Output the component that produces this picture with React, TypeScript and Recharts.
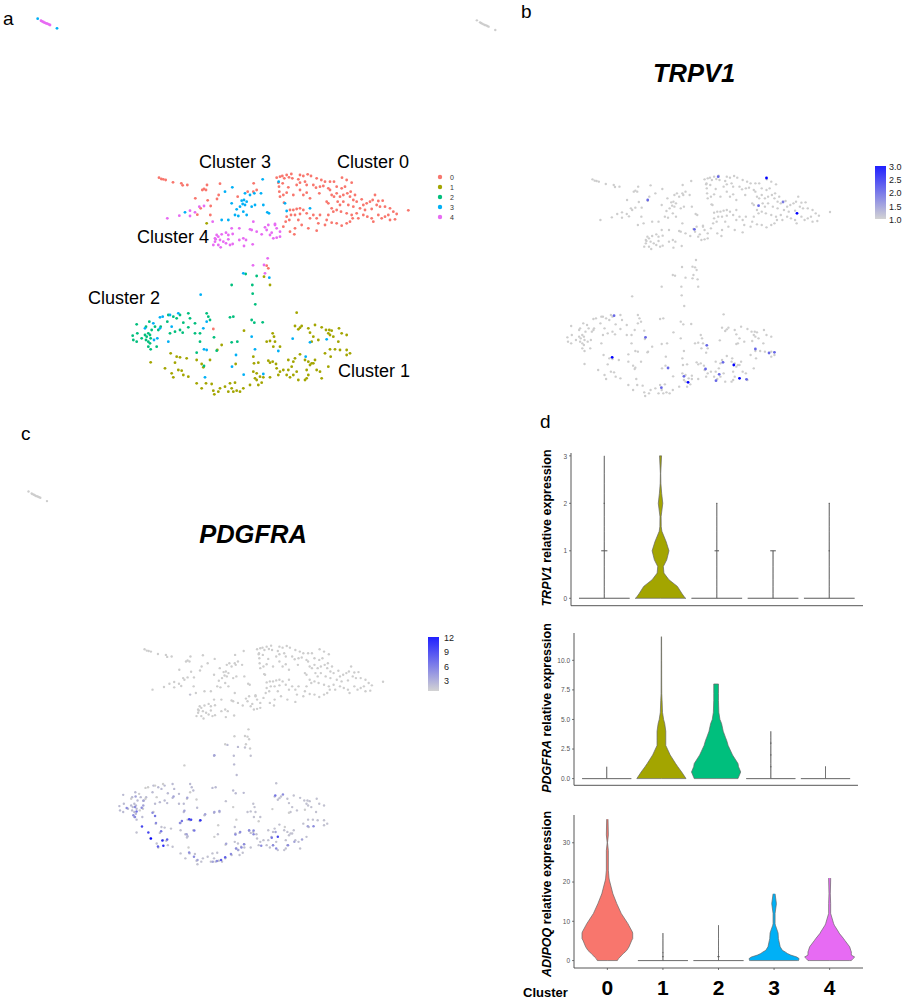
import React from "react";
import { ComposedChart, ScatterChart, Scatter, Area, XAxis, YAxis } from "recharts";

type P = number[];
const FONT = "'Liberation Sans', Arial, sans-serif";

const clusterNames = ["0", "1", "2", "3", "4"];
const clusterColors = ["#F8766D", "#A3A500", "#00BF7D", "#00B0F6", "#E76BF3"];

const cluster0: P[] = [[237,113],[244,117],[250,118],[257,120],[279,127],[304,130],[308,136],[322,135],[381,135],[372,147],[367,150],[378,150],[420,131],[346,175],[383,181],[411,177],[416,165],[392,198],[391,225],[362,205],[352,224],[521,130],[503,155],[520,155],[530,150],[473,170],
[590,113],[600,110],[607,108],[613,115],[620,105],[627,112],[634,102],[637,115],[660,105],[670,108],[683,103],[693,108],[710,115],[724,120],[735,125],[750,125],[762,125],[786,113],[815,128],[800,120],
[595,128],[597,140],[608,130],[625,142],[655,118],[660,128],[675,125],[650,135],[680,135],[700,135],[708,143],[720,140],[730,138],[745,145],[750,150],[770,140],[785,145],[795,140],[812,155],
[598,155],[610,165],[620,158],[600,170],[612,188],[640,165],[660,150],[670,165],[680,158],[690,175],[718,160],[740,185],[745,190],[755,165],[762,170],[770,160],[780,170],[790,165],[802,160],[810,170],[825,165],[820,180],[830,185],[845,178],[850,195],[860,190],[870,185],[885,165],[878,180],[895,183],[908,182],[890,195],[900,200],[915,200],[930,205],[940,215],[950,222],[985,211],
[773,185],[780,195],[790,185],[805,195],[820,200],[840,205],[855,210],[875,207],[770,210],[783,215],[800,220],[815,225],[830,220],[850,225],[862,230],[875,235],[880,245],[895,225],[905,235],[915,230],[930,240],[945,238],[925,225],
[770,250],[785,257],[800,250],[810,245],[818,235],[835,235],[740,240],[745,225],[755,205],[760,215],[720,225],[710,235],[700,225],[690,235],[680,220],[670,210],[660,205],[650,207],[640,210],[630,210],[633,225],[645,225],[660,222],[620,230],[617,245],[628,240],[655,240],[665,255],[645,265],[630,275],[643,283],[685,265],[710,272],[715,250],[735,255],[755,248],[610,260],[560,377],[565,385],[400,567]];

const cluster1: P[] = [[380,250],[570,435],[552,410],[650,518],[645,558],[655,568],[660,563],[665,558],[685,565],[705,555],[725,562],[738,570],[748,570],[755,572],[745,580],[750,585],[777,565],[785,580],[800,585],[690,578],[700,590],[715,600],[695,605],[760,590],[775,605],[578,580],[582,590],[570,603],[560,605],[585,605],[600,620],[580,620],
[272,640],[290,650],[300,652],[320,655],[212,667],[285,668],[255,685],[275,700],[280,712],[295,690],[305,692],[310,705],[325,710],[350,660],[365,672],[390,660],[370,682],[425,615],[412,630],[492,572],[467,672],[520,650],[522,670],[535,668],[565,662],[570,668],[578,665],[588,672],[625,660],[645,655],[660,643],[675,660],[685,665],[695,670],[705,660],[735,640],[750,628],[765,628],[780,630],[800,630],[810,640],[800,645],[752,650],[745,680],[720,695],[725,715],[700,670],[710,690],[690,675],[680,690],[685,705],[680,715],[675,720],[640,665],[635,680],[625,690],[620,705],[630,712],[640,705],[650,695],[655,720],[610,690],[600,695],[595,705],[590,685],
[520,695],[530,700],[525,715],[540,710],[550,712],[535,735],[530,720],[545,728],[570,712],[350,730],[365,745],[378,730],[395,732],[400,752],[403,763],[420,745],[415,755],[435,740],[450,730],[455,745],[460,755],[470,752],[480,755],[490,745],[510,735],[445,755],[465,728]];

const cluster2: P[] = [[170,553],[158,587],[172,580],[160,600],[170,605],[185,595],[195,585],[200,590],[198,600],[205,605],[210,610],[205,620],[212,628],[205,580],[210,585],[212,595],[215,570],[208,545],[198,560],[225,560],[235,570],[242,560],[230,620],[265,525],[262,545],[280,530],[290,535],[300,525],[310,548],[325,520],[330,535],[345,550],[345,580],[325,562],[308,578],[300,570],[285,575],[270,580],[380,520],[385,530],[390,540],[450,532],[460,530],[360,605],[402,592],[410,632],[455,607],[472,605],[350,638],[372,678],[515,540],[548,547],[523,548],[526,493],[518,461],[517,435],[455,435],[497,402],[530,408],[360,580]];

const cluster3: P[] = [[-127,-364],[-69,-335],[548,118],[596,125],[457,142],[435,155],[495,160],[510,165],[523,160],[543,160],[485,182],[492,180],[500,185],[488,192],[455,190],[480,200],[495,195],[470,208],[515,200],[525,195],[490,215],[465,225],[475,228],[445,240],[425,240],[500,225],[550,195],[562,217],[567,220],[620,213],[615,190],[690,205],[315,217],
[362,464],[568,413],[490,400],[240,532],[248,530],[270,525],[295,520],[380,545],[370,565],[195,565],[220,550],[240,565],[232,595],[222,600],[275,560],[265,605],[372,628],[380,630],[468,645],[515,590],[525,628],[595,633],[638,596],[690,607],[740,598],[677,650],[456,680],[491,704],[550,702],[375,712]];

const cluster4: P[] = [[-117,-358],[-114,-356],[-110,-354],[-106,-352],[-102,-350],[-98,-349],[-94,-347],[-90,-345],[563,355],[519,376],[552,375],[555,400],[262,235],[298,227],[330,212],[330,228],[358,200],[372,198],[345,217],[398,245],
[410,285],[405,295],[415,290],[425,283],[438,278],[445,285],[458,282],[455,265],[478,265],[510,268],[520,245],[515,270],[530,275],[565,255],[585,252],[590,265],[600,275],[560,270],[545,283],[570,285],[580,295],[590,293],[600,290],[575,278],[585,255],[555,262],
[405,305],[400,315],[415,315],[422,322],[430,305],[438,310],[445,298],[450,315],[458,312],[478,300],[490,295],[498,300],[492,318],[518,313],[407,298],[420,300]];

const clusters = [cluster0, cluster1, cluster2, cluster3, cluster4];

const trpv1Expression: P[] = [[633,105,2],[785,109,3],[411,175,2],[760,192,2],[837,181,1.8],[881,215,3],[558,263,2],[305,522,2],[404,587,2],[299,647,3],[597,611,2],[750,622,2],[793,634,2],[810,632,2],[648,662,2],[682,670,3],[475,679,2],[593,682,2],[636,698,2],[525,704,2],[538,722,3],[626,717,2],[700,710,3],[722,713,2],[454,738,2]];

const pdgfraExpression: P[] = [[209,558,5],[233,571,5],[181,593,6],[212,603,7],[207,620,6],[228,592,6],[262,607,6],[270,617,7],[273,638,6],[229,649,9],[249,667,9],[289,663,7],[257,685,12],[293,691,10],[308,688,8],[279,709,8],[296,707,10],[354,632,7],[377,627,9],[383,628,9],[412,630,10],[393,661,7],[456,605,5],[472,602,5],[427,612,5],[537,665,6],[565,660,6],[579,661,6],[579,672,6],[522,673,6],[647,555,7],[671,552,6],[655,680,9],[636,683,7],[648,665,5],[603,707,6],[640,705,6],[650,715,6],[687,705,6],[707,695,5],[731,688,5],[767,648,6],[749,648,5],[524,715,6],[549,702,6],[541,712,6],[531,720,5],[493,701,5],[508,732,6],[490,742,8],[477,750,8],[464,753,6],[451,755,5],[377,727,6],[392,740,6],[403,750,5],[369,672,5],[207,590,6],[233,585,5],[202,615,6],[328,558,5],[371,562,5],[362,601,5],[348,638,6],[456,433,5]];
const pdgfraClusterBase = [1, 3.7, 4, 1, 1];

const gradientMax = { trpv1: 3, pdgfra: 12 };
const gradientMin = { trpv1: 1, pdgfra: 3.2 };

const trpv1Levels = [0,0,0,0.1,0.25,0.39,0.53,0.67,0.81,1,1.19,1.41,1.51,1.72,2,2.21,2.42,2.63,2.85,3,3];
const trpv1Widths: (number | null)[][] = [
  [0,.45,0,0,0,0,0,0,0,0,0,0,0,0,0,0,0,0,0,0,0],
  [0,.45,.44,.38,.30,.15,.06,.05,.11,.15,.10,.024,.012,.01,.04,.02,.006,.003,.012,.018,0],
  [0,.45,0,0,0,0,0,0,0,0,0,0,0,0,0,null,null,null,null,null,null],
  [0,.45,0,0,0,0,0,0,0,0,null,null,null,null,null,null,null,null,null,null,null],
  [0,.45,0,0,0,0,0,0,0,0,0,0,0,0,0,null,null,null,null,null,null],
];
const trpv1Marks = [[1,1,.055],[1,2,.012],[3,1,.04],[4,1,.05],[5,1,.012],[3,2,.01],[5,2,.01]];

const pdgfraLevels = [0,0,0,.56,1,1.27,2,2.8,3.2,3.5,4,4.65,5,5.6,6.6,7.2,8,8,10,12];
const pdgfraWidths: (number | null)[][] = [
  [0,.45,0,0,0,null,null,null,null,null,null,null,null,null,null,null,null,null,null,null],
  [0,.45,.45,.37,.30,.26,.16,.08,.08,.08,.08,.06,.04,.02,.012,.006,.005,.005,.004,.003],
  [0,.40,.40,.45,.41,.40,.30,.22,.195,.17,.13,.10,.07,.05,.043,.043,.043,0,null,null],
  [0,.45,0,0,0,0,0,0,0,0,0,null,null,null,null,null,null,null,null,null],
  [0,.45,0,0,0,null,null,null,null,null,null,null,null,null,null,null,null,null,null,null],
];
const pdgfraMarks = [[4,1,.012],[4,2,.012],[4,3,.012],[5,1,.006]];

const adipoqLevels = [0,0,0,.5,.9,1.4,1.8,2.2,2.6,3.5,5.2,5.6,7,7.3,9,9.4,12,14.5,17,20.5,21,23,28,30,32,36];
const adipoqWidths: (number | null)[][] = [
  [0,.18,.18,.20,.23,.26,.29,.32,.35,.39,.44,.456,.456,.45,.385,.37,.25,.17,.10,.036,.03,.018,.018,.003,.018,.012],
  [0,.45,0,0,0,0,0,0,0,0,0,0,0,null,null,null,null,null,null,null,null,null,null,null,null,null],
  [0,.45,0,0,0,0,0,0,0,0,0,0,0,0,0,null,null,null,null,null,null,null,null,null,null,null],
  [0,.42,.44,.45,.41,.30,.24,.20,.15,.11,.084,.078,.072,.066,.024,.018,.018,.042,.018,null,null,null,null,null,null,null],
  [0,.36,.39,.42,.45,.39,.39,.39,.38,.36,.27,.25,.17,.16,.084,.072,.018,.018,.012,.018,.018,null,null,null,null,null],
];
const adipoqMarks = [[2,1,.012],[2,2,.008],[3,1,.02]];

const LIGHT = [205, 205, 205];
const BLUE = [0, 0, 255];
function expressionColor(v: number, min: number, max: number) {
  const t = Math.min(1, Math.max(0, (v - min) / (max - min)));
  const c = LIGHT.map((l, i) => Math.round(l + (BLUE[i] - l) * t));
  return `rgb(${c[0]},${c[1]},${c[2]})`;
}

const dot = (r: number) => (p: any) => <circle cx={p.cx} cy={p.cy} r={r} fill={p.payload.c ?? p.fill} />;
const toRows = (pts: P[], c?: (p: P) => string) => pts.map((p) => ({ x: p[0], y: p[1], c: c ? c(p) : undefined }));

function Map({ left, top, width, height, xd, yd, children }: any) {
  return (
    <div style={{ position: "absolute", left, top }}>
      <ScatterChart width={width} height={height} margin={{ top: 0, right: 0, bottom: 0, left: 0 }}>
        <XAxis type="number" dataKey="x" domain={xd} hide allowDataOverflow />
        <YAxis type="number" dataKey="y" domain={yd} reversed hide allowDataOverflow />
        {children}
      </ScatterChart>
    </div>
  );
}

const allPoints = clusters.flat();

function Violin({ left, top, width, height, xd, yd, ticks, levels, widths, marks, xAxisHeight, bigTicks, fmt }: any) {
  const seriesRows = widths.map((w: (number | null)[], k: number) =>
    levels
      .map((y: number, i: number) => (w[i] == null ? null : { y, v: [k + 1 - (w[i] as number), k + 1 + (w[i] as number)] }))
      .filter(Boolean)
  );
  const markRows = marks.map((m: number[]) => ({ x: m[0], y: m[1], h: m[2] }));
  return (
    <div style={{ position: "absolute", left, top }}>
      <ComposedChart layout="vertical" width={width} height={height} margin={{ top: 0, right: 0, bottom: 0, left: 0 }}>
        <XAxis
          type="number"
          dataKey="x"
          domain={xd}
          allowDataOverflow
          ticks={[1, 2, 3, 4, 5]}
          height={xAxisHeight}
          tickSize={2}
          tickLine={{ stroke: "#444", strokeWidth: 0.7 }}
          axisLine={{ stroke: "#444", strokeWidth: 0.9 }}
          tick={bigTicks ? { fontSize: 21, fontWeight: 700, fill: "#000", fontFamily: FONT, dy: 8 } : false}
          tickFormatter={(v: number) => clusterNames[v - 1]}
          interval={0}
        />
        <YAxis
          type="number"
          dataKey="y"
          domain={yd}
          reversed
          allowDataOverflow
          ticks={ticks}
          width={30}
          tickSize={2}
          tickMargin={2}
          tickFormatter={fmt}
          tickLine={{ stroke: "#444", strokeWidth: 0.7 }}
          axisLine={{ stroke: "#444", strokeWidth: 0.9 }}
          tick={{ fontSize: 6.5, fill: "#555", fontFamily: FONT }}
        />
        {seriesRows.map((rows: any[], k: number) => (
          <Area
            key={k}
            data={rows}
            type="linear"
            dataKey="v"
            fill={clusterColors[k]}
            fillOpacity={1}
            stroke="#666"
            strokeWidth={0.7}
            dot={false}
            activeDot={false}
            isAnimationActive={false}
          />
        ))}
        <Scatter
          data={markRows}
          isAnimationActive={false}
          shape={(p: any) => {
            const hw = ((width - 30) / (xd[1] - xd[0])) * p.payload.h;
            return <line x1={p.cx - hw} x2={p.cx + hw} y1={p.cy} y2={p.cy} stroke="#555" strokeWidth={1} />;
          }}
        />
      </ComposedChart>
    </div>
  );
}

const T = ({ x, y, s, children, anchor, w, st, fill }: any) => (
  <text x={x} y={y} fontSize={s} textAnchor={anchor ?? "start"} fontWeight={w ?? 400} fontStyle={st ?? "normal"} fill={fill ?? "#000"} fontFamily={FONT}>
    {children}
  </text>
);
const AxisTitle = ({ x, y, gene }: any) => (
  <text transform={`translate(${x},${y}) rotate(-90)`} fontSize={12.5} fontWeight={700} textAnchor="middle" fontFamily={FONT}>
    <tspan fontStyle="italic">{gene}</tspan> relative expression
  </text>
);

export default function App() {
  return (
    <div style={{ position: "absolute", left: 0, top: 0, width: 905, height: 1000, background: "#fff", overflow: "hidden" }}>
      <Map left={0} top={0} width={470} height={410} xd={[-240, 1170]} yd={[-420, 810]}>
        {clusters.map((c, k) => (
          <Scatter key={k} data={toRows(c)} fill={clusterColors[k]} isAnimationActive={false} shape={dot(1.4)} />
        ))}
      </Map>
      <Map left={470} top={0} width={400} height={410} xd={[-148.6, 1110.9]} yd={[-425, 805]}>
        <Scatter data={toRows(allPoints)} fill="#CDCDCD" isAnimationActive={false} shape={dot(1.2)} />
        <Scatter
          data={toRows(trpv1Expression, (p) => expressionColor(p[2], gradientMin.trpv1, gradientMax.trpv1))}
          isAnimationActive={false}
          shape={dot(1.4)}
        />
      </Map>
      <Map left={0} top={470} width={420} height={410} xd={[-216.4, 1101]} yd={[-429, 810.4]}>
        {clusters.map((c, k) => (
          <Scatter
            key={k}
            data={toRows(c, () => expressionColor(pdgfraClusterBase[k], gradientMin.pdgfra, gradientMax.pdgfra))}
            isAnimationActive={false}
            shape={dot(1.2)}
          />
        ))}
        <Scatter
          data={toRows(pdgfraExpression, (p) => expressionColor(p[2], gradientMin.pdgfra, gradientMax.pdgfra))}
          isAnimationActive={false}
          shape={dot(1.25)}
        />
      </Map>
      <Violin left={540.7} top={453} width={322.6} height={160.7} xAxisHeight={8} xd={[0.408, 5.61]} yd={[-0.156, 3.06]} ticks={[0, 1, 2, 3]} levels={trpv1Levels} widths={trpv1Widths} marks={trpv1Marks} />
      <Violin left={544.3} top={632.7} width={314} height={160.3} xAxisHeight={8} xd={[0.402, 5.594]} yd={[-0.566, 12.31]} ticks={[0, 2.5, 5, 7.5, 10]} fmt={(v: number) => v.toFixed(1)} levels={pdgfraLevels} widths={pdgfraWidths} marks={pdgfraMarks} />
      <Violin left={544.3} top={815} width={319} height={185} xAxisHeight={32} bigTicks xd={[0.4, 5.6]} yd={[-1.89, 37.07]} ticks={[0, 10, 20, 30]} levels={adipoqLevels} widths={adipoqWidths} marks={adipoqMarks} />
      <svg width={905} height={1000} style={{ position: "absolute", left: 0, top: 0, pointerEvents: "none" }}>
        <defs>
          <linearGradient id="bar" x1="0" y1="0" x2="0" y2="1">
            <stop offset="0" stopColor="#2020FF" />
            <stop offset="1" stopColor="#D3D3D3" />
          </linearGradient>
        </defs>
        <T x={3} y={25} s={19}>a</T>
        <T x={521} y={18} s={19}>b</T>
        <T x={21} y={440} s={19}>c</T>
        <T x={540} y={428} s={19}>d</T>
        <T x={694} y={82} s={25.5} anchor="middle" w={700} st="italic">TRPV1</T>
        <T x={253} y={543} s={25.5} anchor="middle" w={700} st="italic">PDGFRA</T>
        <T x={199} y={168} s={18}>Cluster 3</T>
        <T x={337} y={168} s={18}>Cluster 0</T>
        <T x={137} y={243} s={18}>Cluster 4</T>
        <T x={88} y={304} s={18}>Cluster 2</T>
        <T x={338} y={377} s={18}>Cluster 1</T>
        {clusterNames.map((n, i) => (
          <g key={n}>
            <circle cx={440} cy={177 + i * 10} r={2.2} fill={clusterColors[i]} />
            <T x={450} y={179.5 + i * 10} s={7} fill="#333">{n}</T>
          </g>
        ))}
        <rect x={875} y={166} width={11} height={53} fill="url(#bar)" />
        {["3.0", "2.5", "2.0", "1.5", "1.0"].map((n, i) => (
          <T key={n} x={889} y={170 + i * 13.2} s={9} fill="#222">{n}</T>
        ))}
        <rect x={428} y={637} width={11} height={54} fill="url(#bar)" />
        {["12", "9", "6", "3"].map((n, i) => (
          <T key={n} x={444} y={640.5 + i * 14.6} s={9} fill="#222">{n}</T>
        ))}
        <AxisTitle x={551} y={528} gene="TRPV1" />
        <AxisTitle x={551} y={708} gene="PDGFRA" />
        <AxisTitle x={551} y={894} gene="ADIPOQ" />
        <T x={523} y={997} s={13} w={700}>Cluster</T>
      </svg>
    </div>
  );
}
